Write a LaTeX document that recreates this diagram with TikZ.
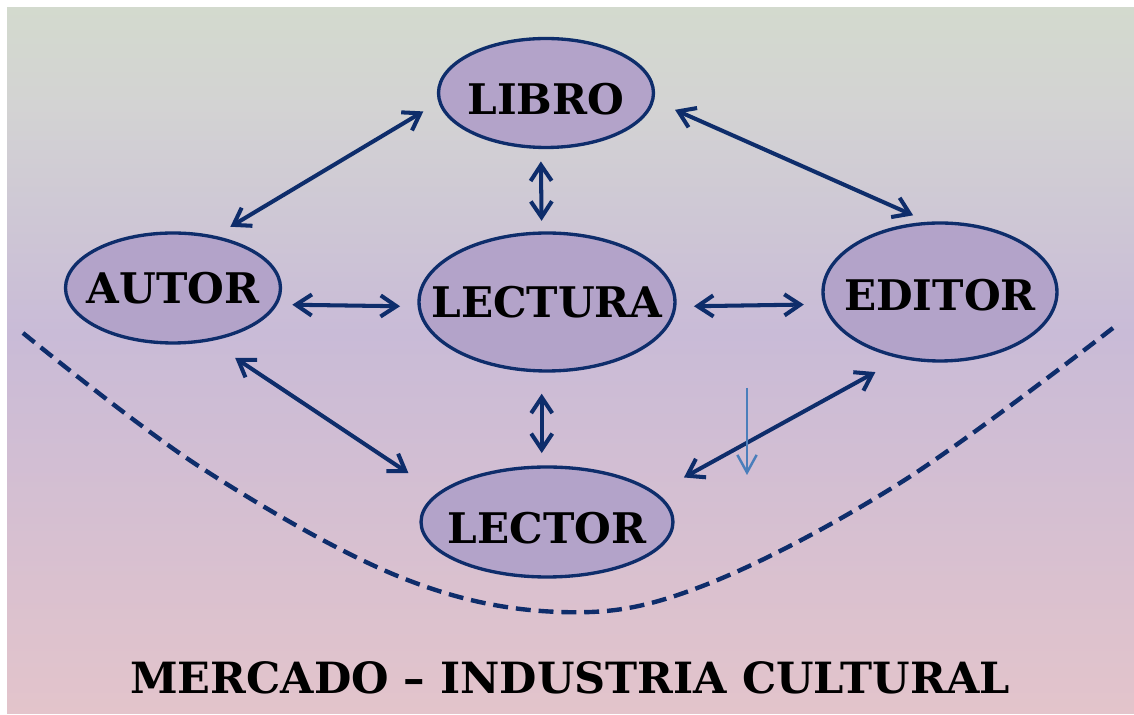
\documentclass[tikz,border=0pt]{standalone}
\usepackage{fontspec}
\setmainfont{DejaVu Serif}
\usetikzlibrary{shapes.geometric,arrows.meta}
\definecolor{bgtop}{HTML}{D3DACE}
\definecolor{bggris}{HTML}{D3D3D3}
\definecolor{bgmid}{HTML}{C9BBD7}
\definecolor{bgbot}{HTML}{E3C4CB}
\definecolor{navy}{HTML}{0E2D6B}
\definecolor{lila}{HTML}{B3A3C9}
\definecolor{celeste}{HTML}{4A7EBB}
\pgfdeclareverticalshading{fondo}{100bp}{color(0bp)=(bgbot); color(25bp)=(bgbot);
  color(52bp)=(bgmid); color(68bp)=(bggris); color(75bp)=(bgtop); color(100bp)=(bgtop)}
\tikzset{
  tema/.style={ellipse,draw=navy,line width=1.9pt,fill=lila,inner xsep=-2cm,inner ysep=-1cm,
    font=\fontsize{24}{28}\selectfont\bfseries},
  enlace/.style={navy,line width=2.3pt,
    {Straight Barb[length=9pt,width=12pt]}-{Straight Barb[length=9pt,width=12pt]}},
}
\begin{document}
\begin{tikzpicture}[x=0.02cm,y=-0.02cm]
    \useasboundingbox (0,0) rectangle (1134,715);
    \shade[shading=fondo] (7,8) rectangle (1134,714);
    \node[tema,minimum width=4.3cm,minimum height=2.18cm,text height=24.5pt,text depth=0pt] (libro) at (546,93) {LIBRO};
    \node[tema,minimum width=4.3cm,minimum height=2.2cm] (autor) at (173,288) {AUTOR};
    \node[tema,minimum width=5.12cm,minimum height=2.76cm] (lectura) at (547,302) {LECTURA};
    \node[tema,minimum width=4.68cm,minimum height=2.76cm,text height=21pt,text depth=0pt] (editor) at (940,292) {EDITOR};
    \node[tema,minimum width=5.04cm,minimum height=2.2cm,text height=24.5pt,text depth=0pt] (lector) at (547,522) {LECTOR};
    \draw[enlace,shorten <=10pt,shorten >=10pt] (libro.185) -- (autor.51);
    \draw[enlace,shorten <=7pt,shorten >=6pt] ([xshift=-3pt]libro.south) -- ([xshift=-3pt]lectura.north);
    \draw[enlace,shorten <=13pt,shorten >=9pt] (libro.356) -- (editor.100);
    \draw[enlace,shorten <=8.5pt,shorten >=10pt] (autor.-9) -- (lectura.182);
    \draw[enlace,shorten <=10pt,shorten >=11pt] (lectura.-2) -- (editor.186);
    \draw[enlace,shorten <=17pt,shorten >=20pt] (autor.-55) -- (lector.165);
    \draw[enlace,shorten <=12pt,shorten >=7pt] ([xshift=-3pt]lectura.south) -- ([xshift=-3pt]lector.north);
    \draw[enlace,shorten <=16pt,shorten >=18pt] (editor.239) -- (lector.15);
    \coordinate (flecha a) at (747,388);
    \coordinate (flecha b) at (747,475);
    \draw[celeste,line width=1.4pt,-{Straight Barb[length=10pt,width=11pt]}] (flecha a) -- (flecha b);
    \draw[navy,line width=2.5pt,dash pattern=on 8.5pt off 4.5pt] plot[smooth,tension=0.6]
      coordinates {(23,333) (200,467) (400,577) (560,612) (700,587) (900,483) (1113,328)};
    \node[font=\fontsize{24.5}{28}\selectfont\bfseries] (mercado) at (570,678)
      {MERCADO – INDUSTRIA CULTURAL};
  \end{tikzpicture}
\end{document}
